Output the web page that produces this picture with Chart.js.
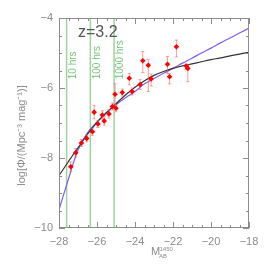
<!DOCTYPE html>
<html lang="en">
<head>
    <meta charset="UTF-8">
    <title>QLF z=3.2</title>
    <style>
        body {margin: 0;
              background: #fff;}
        #wrap {width: 266px;
               height: 266px;}
    </style>
    <script src="https://cdn.jsdelivr.net/npm/chart.js"></script>
</head>
<body>
    <div id="wrap"><canvas id="lfChart" width="266" height="266"></canvas></div>

    <script>
        // measured points
        const magBins = [-27.38, -27.12, -26.82, -26.54, -26.24, -26.15, -25.95, -25.72, -25.62, -25.37, -25.19, -25.05, -25.00,
                         -24.67, -24.30, -24.15, -23.73, -23.59, -23.30, -23.15, -22.29, -22.18, -21.82, -21.30, -21.22];
        const logPhi = [-8.25, -7.85, -7.57, -7.44, -7.25, -6.69, -7.03, -6.77, -6.94, -6.74, -6.53, -6.18, -6.58,
                        -6.13, -5.72, -6.10, -5.90, -5.22, -5.35, -5.74, -5.32, -5.68, -4.82, -5.37, -5.44];
        const errUp = [0.14, 0.12, 0.10, 0.10, 0.10, 0.19, 0.10, 0.12, 0.12, 0.12, 0.10, 0.30, 0.10,
                       0.10, 0.13, 0.10, 0.14, 0.26, 0.17, 0.14, 0.22, 0.09, 0.19, 0.05, 0.10];
        const errDown = [0.14, 0.12, 0.10, 0.10, 0.10, 0.19, 0.10, 0.12, 0.12, 0.12, 0.10, 0.31, 0.10,
                         0.10, 0.19, 0.10, 0.14, 0.34, 0.75, 0.20, 0.26, 0.20, 0.29, 0.10, 0.38];

        // fitted curves
        const curveMag = [-28, -27.75, -27.5, -27.25, -27, -26.5, -26, -25.5, -25, -24.5, -24, -23.5, -23,
                          -22.5, -22, -21.5, -21, -20.5, -20, -19.5, -19, -18.5, -18];
        const fitBlack = [-8.50, -8.30, -8.10, -7.90, -7.71, -7.32, -6.98, -6.70, -6.45, -6.20, -5.98, -5.79, -5.64,
                          -5.53, -5.44, -5.37, -5.31, -5.25, -5.19, -5.14, -5.08, -5.03, -4.98];
        const fitBlue = [-9.48, -9.03, -8.60, -8.15, -7.77, -7.28, -6.97, -6.71, -6.48, -6.28, -6.10, -5.88, -5.73,
                         -5.58, -5.44, -5.29, -5.15, -5.00, -4.86, -4.71, -4.57, -4.43, -4.29];

        // survey depth markers
        const depthMag = [-27.6, -26.35, -25.1];
        const depthLabels = ['10 hrs', '100 hrs', '1000 hrs'];

        const xMin = -28, xMax = -18, yMin = -10, yMax = -4;
        const grigio = '#8c8c8c';
        const verde = 'rgba(140, 205, 140, 0.85)';

        const punti = magBins.map((m, i) => ({x: m, y: logPhi[i]}));
        const nero = curveMag.map((m, i) => ({x: m, y: fitBlack[i]}));
        const blu = curveMag.map((m, i) => ({x: m, y: fitBlue[i]}));

        const datasets = [
            {data: punti, showLine: false, pointStyle: 'rectRot', pointRadius: 2.8,
             backgroundColor: '#ff0000', borderColor: '#ff0000', borderWidth: 0},
            {data: nero, showLine: true, pointRadius: 0, borderColor: '#333333', borderWidth: 1.2,
             cubicInterpolationMode: 'monotone'},
            {data: blu, showLine: true, pointRadius: 0, borderColor: '#7f5ff0', borderWidth: 1.2,
             cubicInterpolationMode: 'monotone'}
        ];
        depthMag.forEach(m => {
            datasets.push({data: [{x: m, y: yMin}, {x: m, y: yMax}], showLine: true, pointRadius: 0,
                           borderColor: verde, borderWidth: 1.5});
        });

        const meno = v => (v < 0 ? '\u2212' : '') + Math.abs(v);

        const extra = {
            id: 'extra',
            beforeDatasetDraw(chart, args) {
                if (args.index !== 0) return;
                const ctx = chart.ctx, xs = chart.scales.x, ys = chart.scales.y;
                ctx.save();
                ctx.strokeStyle = 'rgba(255, 90, 90, 0.6)';
                ctx.lineWidth = 1;
                magBins.forEach((m, i) => {
                    const px = xs.getPixelForValue(m);
                    const top = ys.getPixelForValue(logPhi[i] + errUp[i]);
                    const bot = ys.getPixelForValue(logPhi[i] - errDown[i]);
                    ctx.beginPath();
                    ctx.moveTo(px, top); ctx.lineTo(px, bot);
                    ctx.moveTo(px - 1.5, top); ctx.lineTo(px + 1.5, top);
                    ctx.moveTo(px - 1.5, bot); ctx.lineTo(px + 1.5, bot);
                    ctx.stroke();
                });
                ctx.restore();
            },
            afterDraw(chart) {
                const ctx = chart.ctx, a = chart.chartArea;
                const xs = chart.scales.x, ys = chart.scales.y;
                ctx.save();
                // frame and inward ticks
                ctx.strokeStyle = grigio;
                ctx.lineWidth = 1;
                ctx.strokeRect(a.left + 0.5, a.top + 0.5, a.right - a.left - 1, a.bottom - a.top - 1);
                ctx.beginPath();
                for (let v = xMin; v <= xMax + 0.001; v += 0.5) {
                    const px = Math.round(xs.getPixelForValue(v)) + 0.5;
                    const len = (Math.abs(v % 2) < 0.001) ? 6 : 3;
                    ctx.moveTo(px, a.bottom); ctx.lineTo(px, a.bottom - len);
                    ctx.moveTo(px, a.top); ctx.lineTo(px, a.top + len);
                }
                for (let v = yMin; v <= yMax + 0.001; v += 0.5) {
                    const py = Math.round(ys.getPixelForValue(v)) + 0.5;
                    const len = (Math.abs(v % 2) < 0.001) ? 6 : 3;
                    ctx.moveTo(a.left, py); ctx.lineTo(a.left + len, py);
                    ctx.moveTo(a.right, py); ctx.lineTo(a.right - len, py);
                }
                ctx.stroke();

                // depth labels
                ctx.fillStyle = 'rgb(120, 195, 120)';
                ctx.font = '10px "Liberation Sans"';
                depthMag.forEach((m, i) => {
                    ctx.save();
                    ctx.translate(xs.getPixelForValue(m) + 1.5, ys.getPixelForValue(-5.75));
                    ctx.rotate(-Math.PI / 2);
                    ctx.textAlign = 'left';
                    ctx.textBaseline = 'top';
                    ctx.fillText(depthLabels[i], 0, 0);
                    ctx.restore();
                });

                // redshift tag
                ctx.fillStyle = '#555555';
                ctx.font = '16px "Liberation Sans"';
                ctx.textAlign = 'left';
                ctx.textBaseline = 'alphabetic';
                ctx.fillText('z=3.2', 78, 37);

                // axis titles
                ctx.fillStyle = grigio;
                ctx.save();
                ctx.translate(22, 135.5);
                ctx.rotate(-Math.PI / 2);
                ctx.textAlign = 'center';
                ctx.textBaseline = 'middle';
                ctx.font = '11px "Liberation Sans"';
                ctx.fillText('log[\u03A6/(Mpc\u207B\u00B3 mag\u207B\u00B9)]', 0, 0);
                ctx.restore();

                ctx.textAlign = 'left';
                ctx.font = '11px "Liberation Sans"';
                ctx.fillText('M', 151, 254.5);
                ctx.font = '6px "Liberation Sans"';
                ctx.fillText('1450', 159.5, 250.5);
                ctx.fillText('AB', 159, 257.5);
                ctx.restore();
            }
        };

        new Chart(document.getElementById('lfChart'), {
            type: 'scatter',
            data: {datasets: datasets},
            options: {
                responsive: false,
                animation: false,
                layout: {padding: {left: 0, right: 17, top: 18, bottom: 0}},
                plugins: {
                    legend: {display: false},
                    tooltip: {enabled: false}},
                scales: {
                    x: {type: 'linear', min: xMin, max: xMax,
                        afterFit: s => { s.height = 38; },
                        grid: {display: false, drawTicks: false},
                        border: {display: false},
                        ticks: {stepSize: 2, padding: 7, color: grigio, maxRotation: 0,
                                font: {family: 'Liberation Sans', size: 11}, callback: meno}},
                    y: {type: 'linear', min: yMin, max: yMax,
                        afterFit: s => { s.width = 59; },
                        grid: {display: false, drawTicks: false},
                        border: {display: false},
                        ticks: {stepSize: 2, padding: 6, color: grigio,
                                font: {family: 'Liberation Sans', size: 11}, callback: meno}}}
            },
            plugins: [extra]
        });
    </script>
</body>
</html>
